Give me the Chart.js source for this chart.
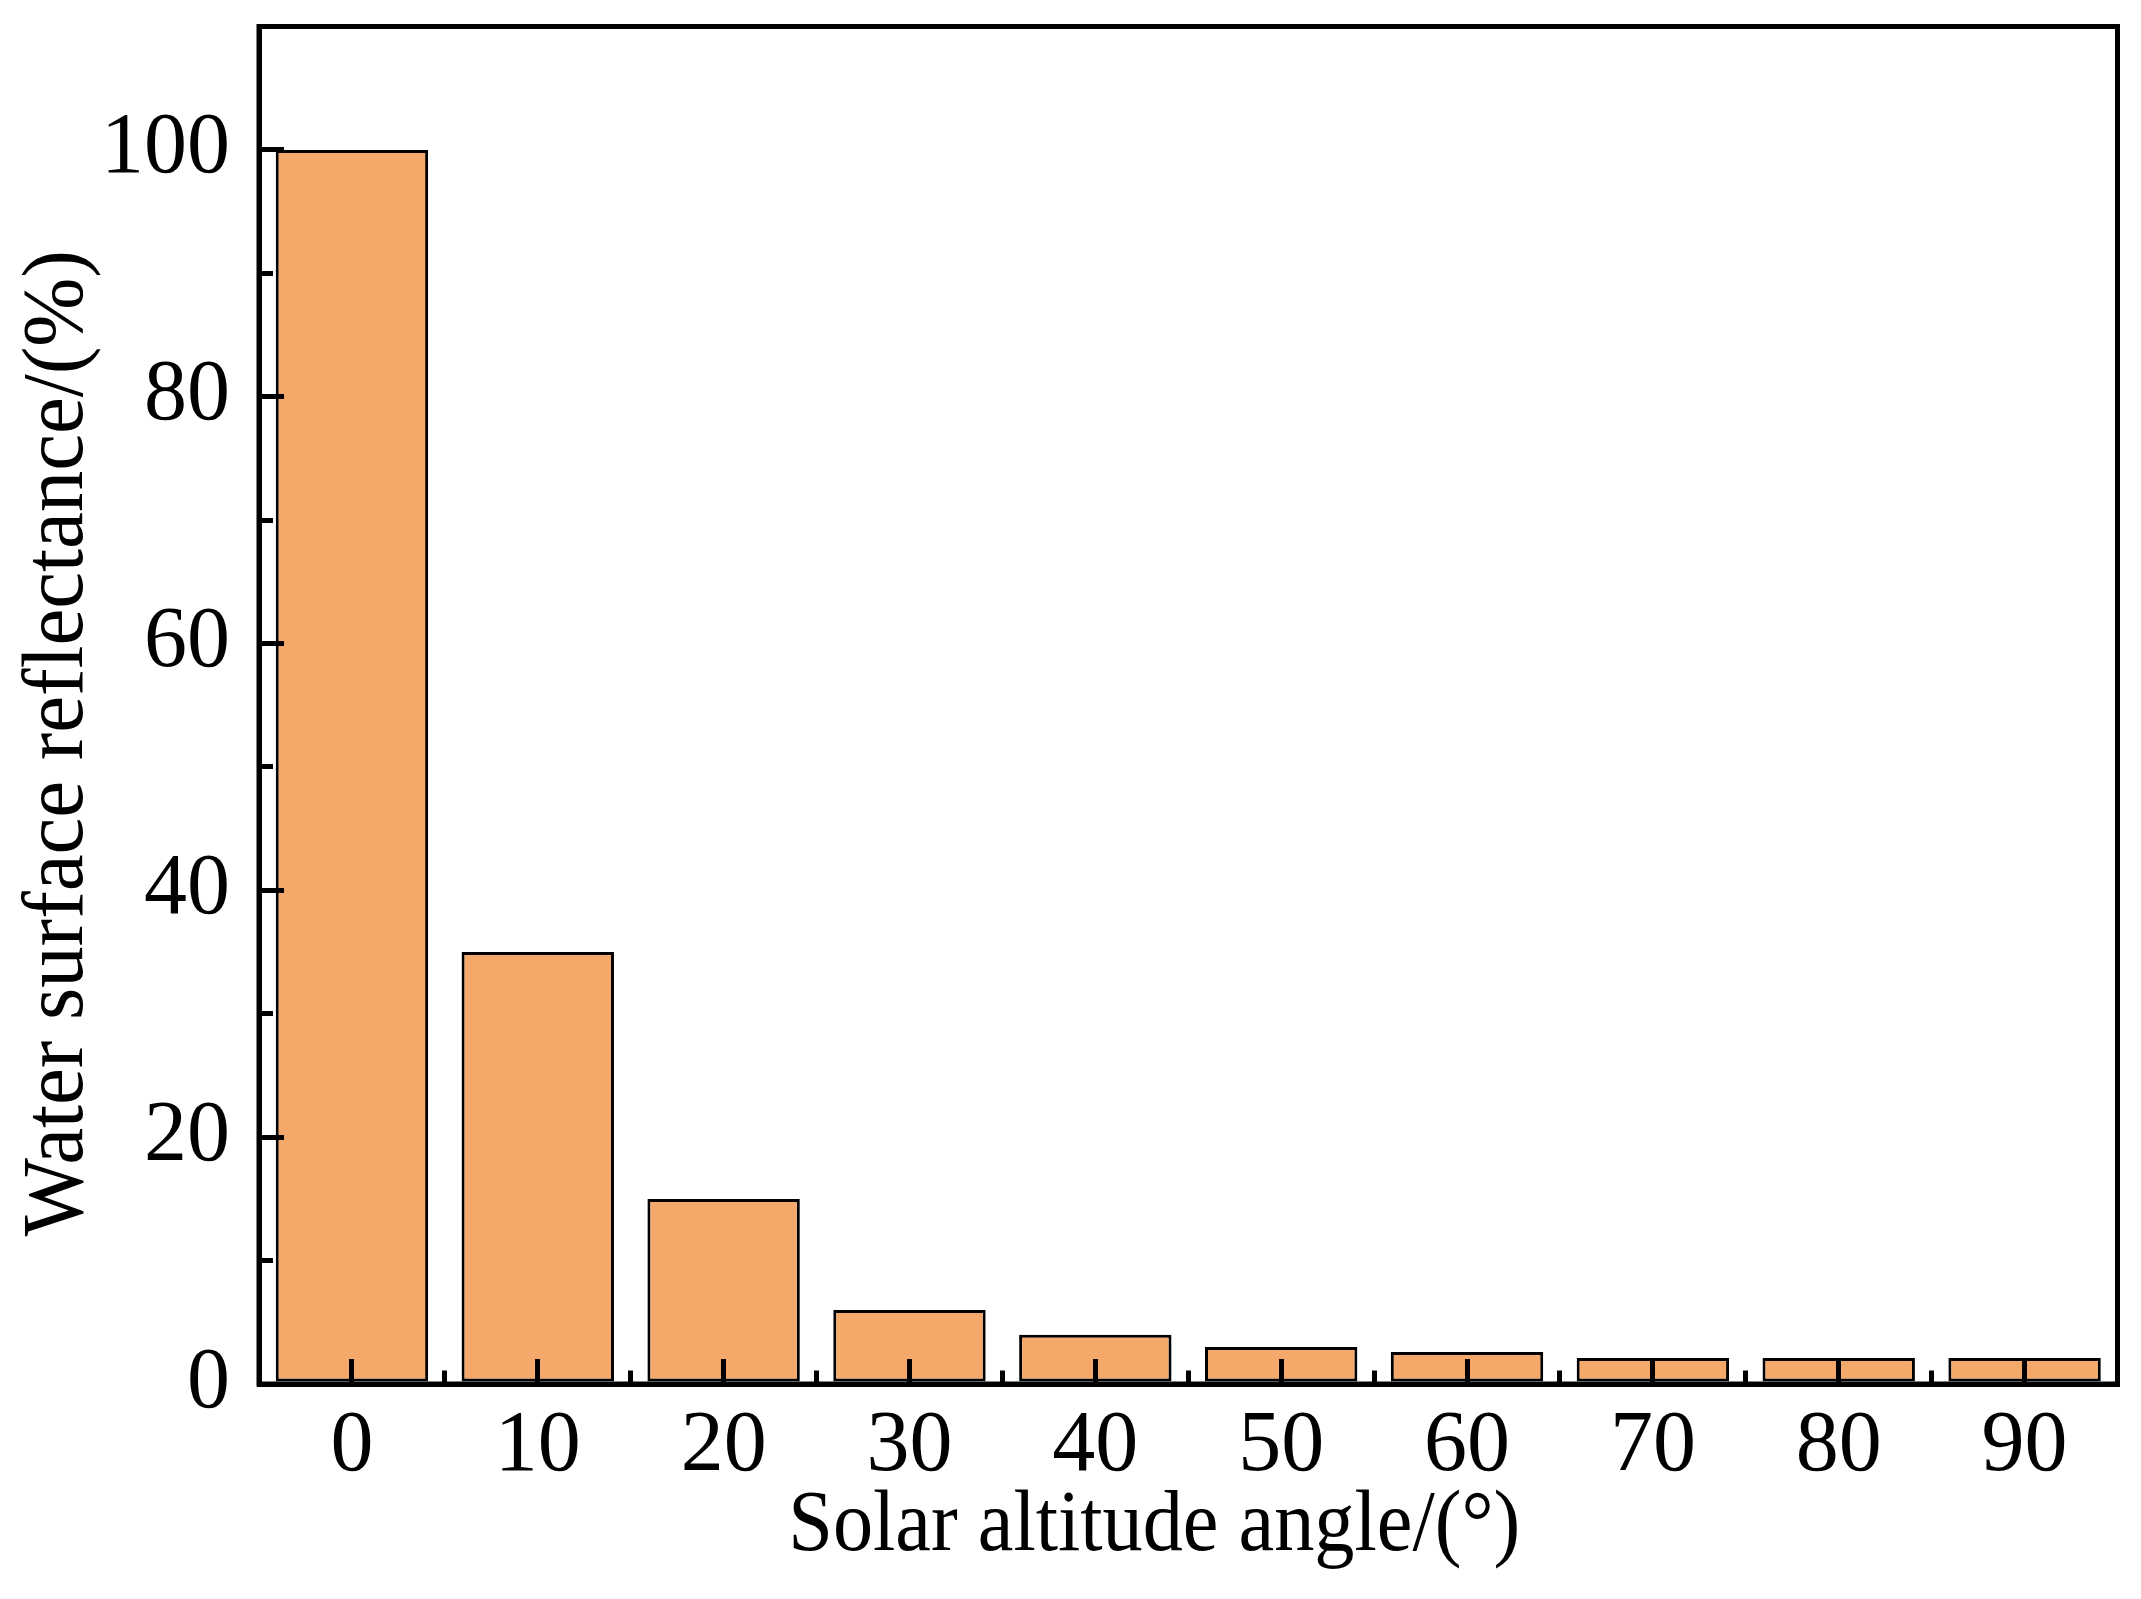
<!DOCTYPE html>
<html>
<head>
<meta charset="utf-8">
<script src="https://cdn.jsdelivr.net/npm/chart.js@4/dist/chart.umd.min.js"></script>
<style>
  html, body { margin: 0; padding: 0; background: #fff; }
</style>
</head>
<body>
<canvas id="reflectChart" width="2141" height="1599"></canvas>
<script>
// Data
const angles = ['0', '10', '20', '30', '40', '50', '60', '70', '80', '90'];
const reflectance = [100, 35, 15, 6, 4, 3, 2.6, 2.1, 2.1, 2.1];
const yMajorTicks = [0, 20, 40, 60, 80, 100];
const yMinorTicks = [10, 30, 50, 70, 90];
const xTitle = 'Solar altitude angle/(°)';
const yTitle = 'Water surface reflectance/(%)';

Chart.defaults.font.family = '"Liberation Serif", "Times New Roman", serif';
Chart.defaults.color = '#000';

const labelFont = { size: 86, lineHeight: 1 };

// zero out the label overhang so the plot area stays where we put it
function fixSize(prop, value) {
    return function(scale) {
        scale[prop] = value;
        scale.paddingTop = 0;
        scale.paddingBottom = 0;
        scale.paddingLeft = 0;
        scale.paddingRight = 0;
    };
}

// Top/right frame
const frame = {
    id: 'frame',
    afterDraw(chart) {
        const { left, top, right, bottom } = chart.chartArea;
        const ctx = chart.ctx;
        ctx.save();
        ctx.strokeStyle = '#000';
        ctx.lineWidth = 5;
        ctx.lineJoin = 'miter';
        ctx.strokeRect(left, top, right - left, bottom - top);
        ctx.restore();
    }
};

// Axis titles (placed off-centre like the original figure, slightly condensed)
const axisTitles = {
    id: 'axisTitles',
    afterDraw(chart) {
        const { left, top, right, bottom } = chart.chartArea;
        const ctx = chart.ctx;
        ctx.save();
        ctx.fillStyle = '#000';
        ctx.font = '86px "Liberation Serif", "Times New Roman", serif';
        ctx.textAlign = 'center';
        ctx.textBaseline = 'middle';
        ctx.fillText(xTitle, (left + right) / 2 - 34, bottom + 143, 732);
        ctx.translate(59, (top + bottom) / 2 + 38);
        ctx.rotate(-Math.PI / 2);
        ctx.fillText(yTitle, 0, 0, 986);
        ctx.restore();
    }
};

const ctx = document.getElementById('reflectChart').getContext('2d');
new Chart(ctx, {
    type: 'bar',
    data: {
        labels: angles,
        datasets: [{
            label: 'Reflectance',
            data: reflectance,
            backgroundColor: '#F4A869',
            borderColor: '#000',
            borderWidth: 3,
            borderSkipped: false,
            barPercentage: 0.82,
            categoryPercentage: 1.0
        }]
    },
    options: {
        responsive: false,
        animation: false,
        layout: {
            padding: { top: 26.5, right: 23.5, left: 0, bottom: 0 }
        },
        plugins: {
            legend: { display: false },
            tooltip: { enabled: false }
        },
        scales: {
            x: {
                type: 'category',
                position: 'bottom',
                weight: 10,
                offset: true,
                grid: {
                    offset: false,
                    drawOnChartArea: false,
                    tickLength: -25,
                    tickWidth: 5,
                    lineWidth: 5,
                    tickColor: '#000',
                    color: '#000',
                    z: 1
                },
                border: { display: true, color: '#000', width: 5, z: 1 },
                ticks: { font: labelFont, padding: 45, autoSkip: false, maxRotation: 0 },
                afterFit: fixSize('height', 215)
            },
            x2: {
                type: 'category',
                position: 'bottom',
                weight: 0,
                offset: true,
                grid: {
                    offset: true,
                    drawOnChartArea: false,
                    tickLength: -13.5,
                    tickWidth: 5,
                    lineWidth: 5,
                    tickColor: '#000',
                    color: '#000',
                    z: 1
                },
                border: { display: false },
                ticks: { display: false },
                afterFit: fixSize('height', 0)
            },
            y: {
                type: 'linear',
                position: 'left',
                weight: 10,
                min: 0,
                max: 110,
                grid: {
                    drawOnChartArea: false,
                    tickLength: -25,
                    tickWidth: 5,
                    lineWidth: 5,
                    tickColor: '#000',
                    color: '#000',
                    z: 1
                },
                border: { display: true, color: '#000', width: 5, z: 1 },
                ticks: { font: labelFont, padding: 54 },
                afterBuildTicks: scale => { scale.ticks = yMajorTicks.map(v => ({ value: v })); },
                afterFit: fixSize('width', 259)
            },
            y2: {
                type: 'linear',
                position: 'left',
                weight: 0,
                min: 0,
                max: 110,
                grid: {
                    drawOnChartArea: false,
                    tickLength: -14,
                    tickWidth: 5,
                    lineWidth: 5,
                    tickColor: '#000',
                    color: '#000',
                    z: 1
                },
                border: { display: false },
                ticks: { display: false },
                afterBuildTicks: scale => { scale.ticks = yMinorTicks.map(v => ({ value: v })); },
                afterFit: fixSize('width', 0)
            }
        }
    },
    plugins: [frame, axisTitles]
});
</script>
</body>
</html>
